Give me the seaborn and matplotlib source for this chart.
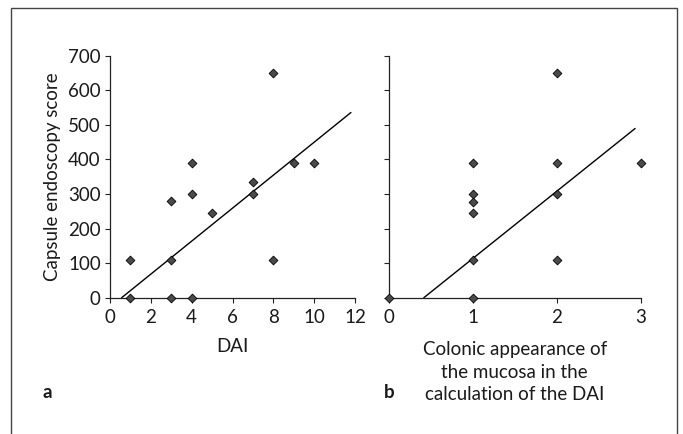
import matplotlib
matplotlib.use("Agg")
import matplotlib.pyplot as plt
import seaborn as sns
import numpy as np
import pandas as pd
from matplotlib.patches import Rectangle

# ---- data ----
dai_x = [1, 1, 3, 3, 3, 4, 4, 4, 5, 7, 7, 8, 8, 9, 10]
dai_y = [110, 0, 280, 110, 0, 390, 300, 0, 245, 335, 300, 650, 110, 390, 390]

col_x = [0, 1, 1, 1, 1, 1, 1, 2, 2, 2, 2, 3]
col_y = [0, 390, 300, 278, 245, 110, 0, 650, 390, 300, 110, 390]

# fitted regression lines (slope, intercept) and x-extent
fit_a = (47.7, -27.2)
fit_a_range = [0.57, 11.8]
fit_b = (195.0, -81.9)
fit_b_range = [0.42, 2.93]

y_ticks = [0, 100, 200, 300, 400, 500, 600, 700]
xa_ticks = [0, 2, 4, 6, 8, 10, 12]
xb_ticks = [0, 1, 2, 3]

y_label = "Capsule endoscopy score"
xa_label = "DAI"
xb_label = "Colonic appearance of\nthe mucosa in the\ncalculation of the DAI"

sns.set_style("white")
plt.rcParams["font.family"] = ["Lato", "DejaVu Sans"]

fig = plt.figure(figsize=(6.83, 4.34), dpi=100)
ax_a = fig.add_axes([110/683, 1-297.7/434, (355-110)/683, (297.7-55.7)/434])
ax_b = fig.add_axes([388.5/683, 1-297.7/434, (641-388.5)/683, (297.7-55.7)/434])

fs = 13.5
tc = "#1a1a1a"
for ax, xs, ys, fit, rng, xt in [
    (ax_a, dai_x, dai_y, fit_a, fit_a_range, xa_ticks),
    (ax_b, col_x, col_y, fit_b, fit_b_range, xb_ticks),
]:
    df = pd.DataFrame({"x": xs, "y": ys})
    sns.scatterplot(data=df, x="x", y="y", ax=ax, marker="D", s=20,
                    color="#4a4a4a", edgecolor="black", linewidth=0.6,
                    clip_on=False, zorder=3)
    lx = np.array(rng)
    ldf = pd.DataFrame({"x": lx, "y": fit[0] * lx + fit[1]})
    sns.lineplot(data=ldf, x="x", y="y", ax=ax, color="black", linewidth=1.0)
    ax.set_xlim(xt[0], xt[-1])
    ax.set_ylim(0, 700)
    ax.set_xticks(xt)
    ax.set_yticks(y_ticks)
    for s in ["top", "right"]:
        ax.spines[s].set_visible(False)
    for s in ["left", "bottom"]:
        ax.spines[s].set_color("#222222")
        ax.spines[s].set_linewidth(0.9)
    ax.tick_params(direction="out", length=3.6, width=0.8, color="#222222",
                   labelsize=fs, bottom=True, left=True, labelcolor=tc)
    ax.tick_params(axis="x", pad=4.5)
    ax.tick_params(axis="y", pad=3)
    ax.set_xlabel("")
    ax.set_ylabel("")

ax_b.set_yticklabels([])
ax_a.set_ylabel(y_label, fontsize=fs, color=tc, labelpad=5)
ax_a.set_xlabel(xa_label, fontsize=fs, color=tc, labelpad=9)
ax_b.set_xlabel(xb_label, fontsize=fs, color=tc, labelpad=11,
                linespacing=1.4)

fig.text(47/683, 1-392/434, "a", fontsize=fs, fontweight="bold",
         ha="center", va="center", color=tc)
fig.text(389/683, 1-392/434, "b", fontsize=fs, fontweight="bold",
         ha="center", va="center", color=tc)

# outer frame (open at bottom, cropped)
fig.add_artist(Rectangle((11/683, -0.05), (677-11)/683, 1.05-8/434,
                         transform=fig.transFigure, fill=False,
                         edgecolor="#444444", linewidth=1.0))

fig.savefig("out.png", dpi=100)
